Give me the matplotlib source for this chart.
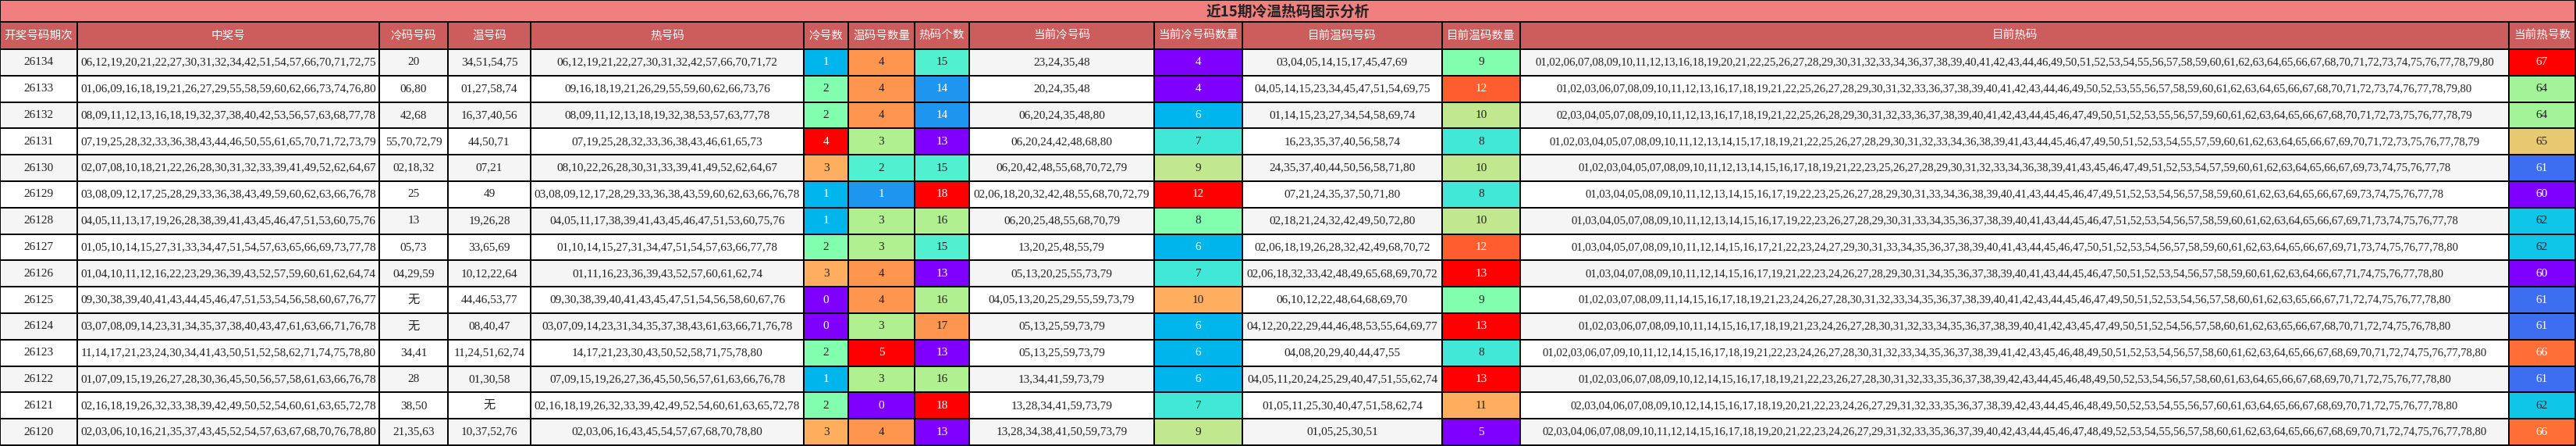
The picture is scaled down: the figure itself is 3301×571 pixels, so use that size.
import matplotlib
matplotlib.use("Agg")
import matplotlib.pyplot as plt
from matplotlib.patches import Rectangle
from matplotlib.colors import LinearSegmentedColormap
import numpy as np

title = "近15期冷温热码图示分析"
headers = ["开奖号码期次", "中奖号", "冷码号码", "温号码", "热号码", "冷号数", "温码号数量", "热码个数",
           "当前冷号码", "当前冷号码数量", "目前温码号码", "目前温码数量", "目前热码", "当前热号数"]

periods = ["26134","26133","26132","26131","26130","26129","26128","26127","26126","26125","26124","26123","26122","26121","26120"]
winning = [
"06,12,19,20,21,22,27,30,31,32,34,42,51,54,57,66,70,71,72,75",
"01,06,09,16,18,19,21,26,27,29,55,58,59,60,62,66,73,74,76,80",
"08,09,11,12,13,16,18,19,32,37,38,40,42,53,56,57,63,68,77,78",
"07,19,25,28,32,33,36,38,43,44,46,50,55,61,65,70,71,72,73,79",
"02,07,08,10,18,21,22,26,28,30,31,32,33,39,41,49,52,62,64,67",
"03,08,09,12,17,25,28,29,33,36,38,43,49,59,60,62,63,66,76,78",
"04,05,11,13,17,19,26,28,38,39,41,43,45,46,47,51,53,60,75,76",
"01,05,10,14,15,27,31,33,34,47,51,54,57,63,65,66,69,73,77,78",
"01,04,10,11,12,16,22,23,29,36,39,43,52,57,59,60,61,62,64,74",
"09,30,38,39,40,41,43,44,45,46,47,51,53,54,56,58,60,67,76,77",
"03,07,08,09,14,23,31,34,35,37,38,40,43,47,61,63,66,71,76,78",
"11,14,17,21,23,24,30,34,41,43,50,51,52,58,62,71,74,75,78,80",
"01,07,09,15,19,26,27,28,30,36,45,50,56,57,58,61,63,66,76,78",
"02,16,18,19,26,32,33,38,39,42,49,50,52,54,60,61,63,65,72,78",
"02,03,06,10,16,21,35,37,43,45,52,54,57,63,67,68,70,76,78,80"]
cold_codes = ["20","06,80","42,68","55,70,72,79","02,18,32","25","13","05,73","04,29,59","无","无","34,41","28","38,50","21,35,63"]
warm_codes = ["34,51,54,75","01,27,58,74","16,37,40,56","44,50,71","07,21","49","19,26,28","33,65,69","10,12,22,64",
              "44,46,53,77","08,40,47","11,24,51,62,74","01,30,58","无","10,37,52,76"]
hot_codes = [
"06,12,19,21,22,27,30,31,32,42,57,66,70,71,72",
"09,16,18,19,21,26,29,55,59,60,62,66,73,76",
"08,09,11,12,13,18,19,32,38,53,57,63,77,78",
"07,19,25,28,32,33,36,38,43,46,61,65,73",
"08,10,22,26,28,30,31,33,39,41,49,52,62,64,67",
"03,08,09,12,17,28,29,33,36,38,43,59,60,62,63,66,76,78",
"04,05,11,17,38,39,41,43,45,46,47,51,53,60,75,76",
"01,10,14,15,27,31,34,47,51,54,57,63,66,77,78",
"01,11,16,23,36,39,43,52,57,60,61,62,74",
"09,30,38,39,40,41,43,45,47,51,54,56,58,60,67,76",
"03,07,09,14,23,31,34,35,37,38,43,61,63,66,71,76,78",
"14,17,21,23,30,43,50,52,58,71,75,78,80",
"07,09,15,19,26,27,36,45,50,56,57,61,63,66,76,78",
"02,16,18,19,26,32,33,39,42,49,52,54,60,61,63,65,72,78",
"02,03,06,16,43,45,54,57,67,68,70,78,80"]
cold_cnt = [1,2,2,4,3,1,1,2,3,0,0,2,1,2,3]
warm_cnt = [4,4,4,3,2,1,3,3,4,4,3,5,3,0,4]
hot_cnt = [15,14,14,13,15,18,16,15,13,16,17,13,16,18,13]
cur_cold = ["23,24,35,48","20,24,35,48","06,20,24,35,48,80","06,20,24,42,48,68,80","06,20,42,48,55,68,70,72,79",
            "02,06,18,20,32,42,48,55,68,70,72,79","06,20,25,48,55,68,70,79","13,20,25,48,55,79","05,13,20,25,55,73,79",
            "04,05,13,20,25,29,55,59,73,79","05,13,25,59,73,79","05,13,25,59,73,79","13,34,41,59,73,79",
            "13,28,34,41,59,73,79","13,28,34,38,41,50,59,73,79"]
cur_cold_cnt = [4,4,6,7,9,12,8,6,7,10,6,6,6,7,9]
cur_warm = ["03,04,05,14,15,17,45,47,69","04,05,14,15,23,34,45,47,51,54,69,75","01,14,15,23,27,34,54,58,69,74",
            "16,23,35,37,40,56,58,74","24,35,37,40,44,50,56,58,71,80","07,21,24,35,37,50,71,80",
            "02,18,21,24,32,42,49,50,72,80","02,06,18,19,26,28,32,42,49,68,70,72","02,06,18,32,33,42,48,49,65,68,69,70,72",
            "06,10,12,22,48,64,68,69,70","04,12,20,22,29,44,46,48,53,55,64,69,77","04,08,20,29,40,44,47,55",
            "04,05,11,20,24,25,29,40,47,51,55,62,74","01,05,11,25,30,40,47,51,58,62,74","01,05,25,30,51"]
cur_warm_cnt = [9,12,10,8,10,8,10,12,13,9,13,8,13,11,5]
cur_hot = [
"01,02,06,07,08,09,10,11,12,13,16,18,19,20,21,22,25,26,27,28,29,30,31,32,33,34,36,37,38,39,40,41,42,43,44,46,49,50,51,52,53,54,55,56,57,58,59,60,61,62,63,64,65,66,67,68,70,71,72,73,74,75,76,77,78,79,80",
"01,02,03,06,07,08,09,10,11,12,13,16,17,18,19,21,22,25,26,27,28,29,30,31,32,33,36,37,38,39,40,41,42,43,44,46,49,50,52,53,55,56,57,58,59,60,61,62,63,64,65,66,67,68,70,71,72,73,74,76,77,78,79,80",
"02,03,04,05,07,08,09,10,11,12,13,16,17,18,19,21,22,25,26,28,29,30,31,32,33,36,37,38,39,40,41,42,43,44,45,46,47,49,50,51,52,53,55,56,57,59,60,61,62,63,64,65,66,67,68,70,71,72,73,75,76,77,78,79",
"01,02,03,04,05,07,08,09,10,11,12,13,14,15,17,18,19,21,22,25,26,27,28,29,30,31,32,33,34,36,38,39,41,43,44,45,46,47,49,50,51,52,53,54,55,57,59,60,61,62,63,64,65,66,67,69,70,71,72,73,75,76,77,78,79",
"01,02,03,04,05,07,08,09,10,11,12,13,14,15,16,17,18,19,21,22,23,25,26,27,28,29,30,31,32,33,34,36,38,39,41,43,45,46,47,49,51,52,53,54,57,59,60,61,62,63,64,65,66,67,69,73,74,75,76,77,78",
"01,03,04,05,08,09,10,11,12,13,14,15,16,17,19,22,23,25,26,27,28,29,30,31,33,34,36,38,39,40,41,43,44,45,46,47,49,51,52,53,54,56,57,58,59,60,61,62,63,64,65,66,67,69,73,74,75,76,77,78",
"01,03,04,05,07,08,09,10,11,12,13,14,15,16,17,19,22,23,26,27,28,29,30,31,33,34,35,36,37,38,39,40,41,43,44,45,46,47,51,52,53,54,56,57,58,59,60,61,62,63,64,65,66,67,69,71,73,74,75,76,77,78",
"01,03,04,05,07,08,09,10,11,12,14,15,16,17,21,22,23,24,27,29,30,31,33,34,35,36,37,38,39,40,41,43,44,45,46,47,50,51,52,53,54,56,57,58,59,60,61,62,63,64,65,66,67,69,71,73,74,75,76,77,78,80",
"01,03,04,07,08,09,10,11,12,14,15,16,17,19,21,22,23,24,26,27,28,29,30,31,34,35,36,37,38,39,40,41,43,44,45,46,47,50,51,52,53,54,56,57,58,59,60,61,62,63,64,66,67,71,74,75,76,77,78,80",
"01,02,03,07,08,09,11,14,15,16,17,18,19,21,23,24,26,27,28,30,31,32,33,34,35,36,37,38,39,40,41,42,43,44,45,46,47,49,50,51,52,53,54,56,57,58,60,61,62,63,65,66,67,71,72,74,75,76,77,78,80",
"01,02,03,06,07,08,09,10,11,14,15,16,17,18,19,21,23,24,26,27,28,30,31,32,33,34,35,36,37,38,39,40,41,42,43,45,47,49,50,51,52,54,56,57,58,60,61,62,63,65,66,67,68,70,71,72,74,75,76,78,80",
"01,02,03,06,07,09,10,11,12,14,15,16,17,18,19,21,22,23,24,26,27,28,30,31,32,33,34,35,36,37,38,39,41,42,43,45,46,48,49,50,51,52,53,54,56,57,58,60,61,62,63,64,65,66,67,68,69,70,71,72,74,75,76,77,78,80",
"01,02,03,06,07,08,09,10,12,14,15,16,17,18,19,21,22,23,26,27,28,30,31,32,33,35,36,37,38,39,42,43,44,45,46,48,49,50,52,53,54,56,57,58,60,61,63,64,65,66,67,68,69,70,71,72,75,76,77,78,80",
"02,03,04,06,07,08,09,10,12,14,15,16,17,18,19,20,21,22,23,24,26,27,29,31,32,33,35,36,37,38,39,42,43,44,45,46,48,49,50,52,53,54,55,56,57,60,61,63,64,65,66,67,68,69,70,71,72,75,76,77,78,80",
"02,03,04,06,07,08,09,10,11,12,14,15,16,17,18,19,20,21,22,23,24,26,27,29,31,32,33,35,36,37,39,40,42,43,44,45,46,47,48,49,52,53,54,55,56,57,58,60,61,62,63,64,65,66,67,68,69,70,71,72,74,75,76,77,78,80"]
cur_hot_cnt = [67,64,64,65,61,60,62,62,60,61,61,66,61,62,66]

columns = [periods, winning, cold_codes, warm_codes, hot_codes, cold_cnt, warm_cnt, hot_cnt,
           cur_cold, cur_cold_cnt, cur_warm, cur_warm_cnt, cur_hot, cur_hot_cnt]
numeric_cols = {5, 6, 7, 9, 11, 13}

W, H = 3301, 571
edges = [0, 99, 486, 574, 680, 1030, 1087, 1172, 1242, 1479, 1592, 1848, 1948, 3215, 3300]
title_h, head_h = 28, 63
nrows = len(periods)
row_h = (H - 1 - head_h) / nrows

fig = plt.figure(figsize=(W/100, H/100), dpi=100)
ax = fig.add_axes([0, 0, 1, 1])
ax.set_xlim(0, W); ax.set_ylim(H, 0); ax.axis("off")

fam = ["Liberation Serif", "Noto Sans CJK SC"]
cjk = ["Noto Sans CJK SC", "DejaVu Sans"]
cmap = LinearSegmentedColormap.from_list("heat", [
    (0.0, "#8000FF"), (0.143, "#3C6EF0"), (0.2, "#1E96F0"), (0.25, "#00B4EC"), (0.29, "#10C8E8"),
    (0.375, "#40E8D8"), (0.4, "#50F0D0"), (0.5, "#80FFB0"), (0.6, "#B0F090"), (0.625, "#C0E890"),
    (0.714, "#E8C870"), (0.75, "#FFB060"), (0.8, "#FF9650"), (0.857, "#FF7038"), (0.875, "#FF6030"),
    (1.0, "#FF0000")])
lw = 1.4

ax.add_patch(Rectangle((0, 0), edges[-1], title_h, facecolor="#F08080", edgecolor="black", lw=lw))
ax.text(1650, title_h/2 + 1, title, ha="center", va="center", fontsize=13.5, fontweight="bold", family=cjk, color="#222222")

for j, h in enumerate(headers):
    x0, x1 = edges[j], edges[j+1]
    ax.add_patch(Rectangle((x0, title_h), x1-x0, head_h-title_h, facecolor="#CD5C5C", edgecolor="black", lw=lw))
    ax.text((x0+x1)/2, (title_h+head_h)/2, h, ha="center", va="center", fontsize=10.5, family=cjk, color="white")

for j, col in enumerate(columns):
    x0, x1 = edges[j], edges[j+1]
    if j in numeric_cols:
        arr = np.array(col, dtype=float)
        lo, hi = arr.min(), arr.max()
    for i, v in enumerate(col):
        y0 = head_h + i*row_h
        bg = "#F5F5F5" if i % 2 == 0 else "white"
        tc = "#222222"
        if j in numeric_cols:
            t = (v - lo) / (hi - lo)
            bg = cmap(t)
            tc = "white" if (t < 0.27 or t > 0.82) else "#222222"
        ax.add_patch(Rectangle((x0, y0), x1-x0, row_h, facecolor=bg, edgecolor="black", lw=lw))
        fs = 10.6 if j == 12 else 11
        ax.text((x0+x1)/2, y0+row_h/2, str(v), ha="center", va="center", fontsize=fs, family=fam, color=tc)

fig.savefig("out.png", dpi=100)
